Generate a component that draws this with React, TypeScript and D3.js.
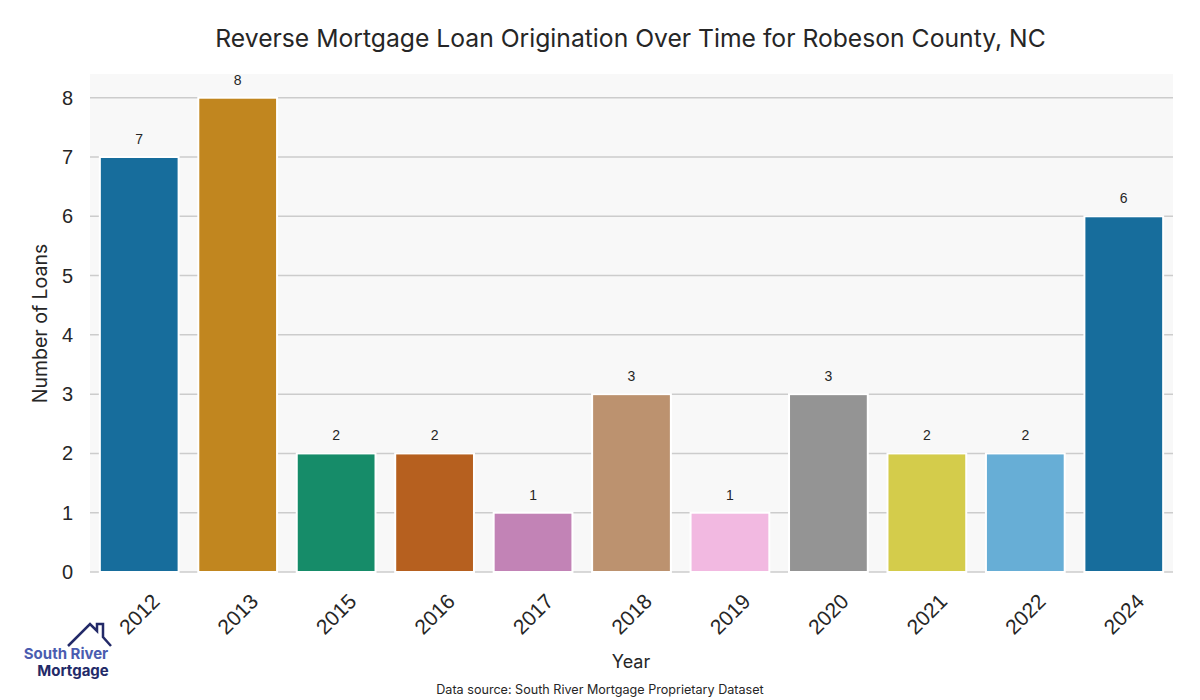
import React from "react";
import * as d3 from "d3";

const years = ["2012", "2013", "2015", "2016", "2017", "2018", "2019", "2020", "2021", "2022", "2024"];
const loans = [7, 8, 2, 2, 1, 3, 1, 3, 2, 2, 6];
const barColors = ["#176d9c", "#c1861f", "#168c69", "#b6601f", "#c283b6", "#bc926f", "#f2b9e1", "#949494", "#d4cc4b", "#67aed6", "#176d9c"];
const yTicks = [0, 1, 2, 3, 4, 5, 6, 7, 8];

const W = 1200, H = 700;
const left = 90, right = 1173, top = 74, bottom = 572;

export default function App() {
  const x = d3.scaleBand<string>().domain(years).range([left, right]).paddingInner(0.2).paddingOuter(0.1);
  const y = d3.scaleLinear().domain([0, 8.4]).range([bottom, top]);
  const tickFont = "'Liberation Sans', Arial, sans-serif";
  const titleFont = "Inter, 'Noto Sans', sans-serif";
  return (
    <svg width={W} height={H} style={{ position: "absolute", left: 0, top: 0, background: "#fff" }}>
      <rect x={left} y={top} width={right - left} height={bottom - top} fill="#f8f8f8" />
      {yTicks.map(t => (
        <g key={t}>
          <line x1={left} x2={right} y1={y(t)} y2={y(t)} stroke="#cccccc" strokeWidth={1.5} />
          <text x={73} y={y(t)} dy="0.35em" textAnchor="end" fontSize={20} fill="#262626" fontFamily={tickFont}>{t}</text>
        </g>
      ))}
      {years.map((yr, i) => (
        <g key={yr}>
          <rect x={x(yr)!} y={y(loans[i])} width={x.bandwidth()} height={y(0) - y(loans[i])} fill={barColors[i]} stroke="#ffffff" strokeWidth={2} />
          <text x={x(yr)! + x.bandwidth() / 2} y={y(loans[i]) - 13} textAnchor="middle" fontSize={14} fill="#262626" fontFamily={tickFont}>{loans[i]}</text>
          <text transform={`translate(${x(yr)! + x.bandwidth() / 2},${614}) rotate(-45)`} textAnchor="middle" dy="0.35em" fontSize={21} fill="#262626" fontFamily={tickFont}>{yr}</text>
        </g>
      ))}
      <text x={630.5} y={47} textAnchor="middle" fontSize={24.7} fill="#262626" fontFamily={titleFont}>Reverse Mortgage Loan Origination Over Time for Robeson County, NC</text>
      <text transform={`translate(40,323.5) rotate(-90)`} textAnchor="middle" dy="0.35em" fontSize={19.5} fill="#262626" fontFamily={titleFont}>Number of Loans</text>
      <text x={631} y={668} textAnchor="middle" fontSize={18} fill="#262626" fontFamily={titleFont}>Year</text>
      <text x={600} y={694} textAnchor="middle" fontSize={12.6} fill="#262626" fontFamily={titleFont}>Data source: South River Mortgage Proprietary Dataset</text>
      <g>
        <path d="M68,646 L90,624 L97,631 L97,624 L103,624 L103,637 L111,646" fill="none" stroke="#232a68" strokeWidth={2.5} strokeLinejoin="miter" />
        <text x={66} y={659} textAnchor="middle" fontSize={15} fontWeight={700} fill="#4a5cb0" fontFamily={titleFont}>South River</text>
        <text x={73} y={676} textAnchor="middle" fontSize={15} fontWeight={700} fill="#232a68" fontFamily={titleFont}>Mortgage</text>
      </g>
    </svg>
  );
}
